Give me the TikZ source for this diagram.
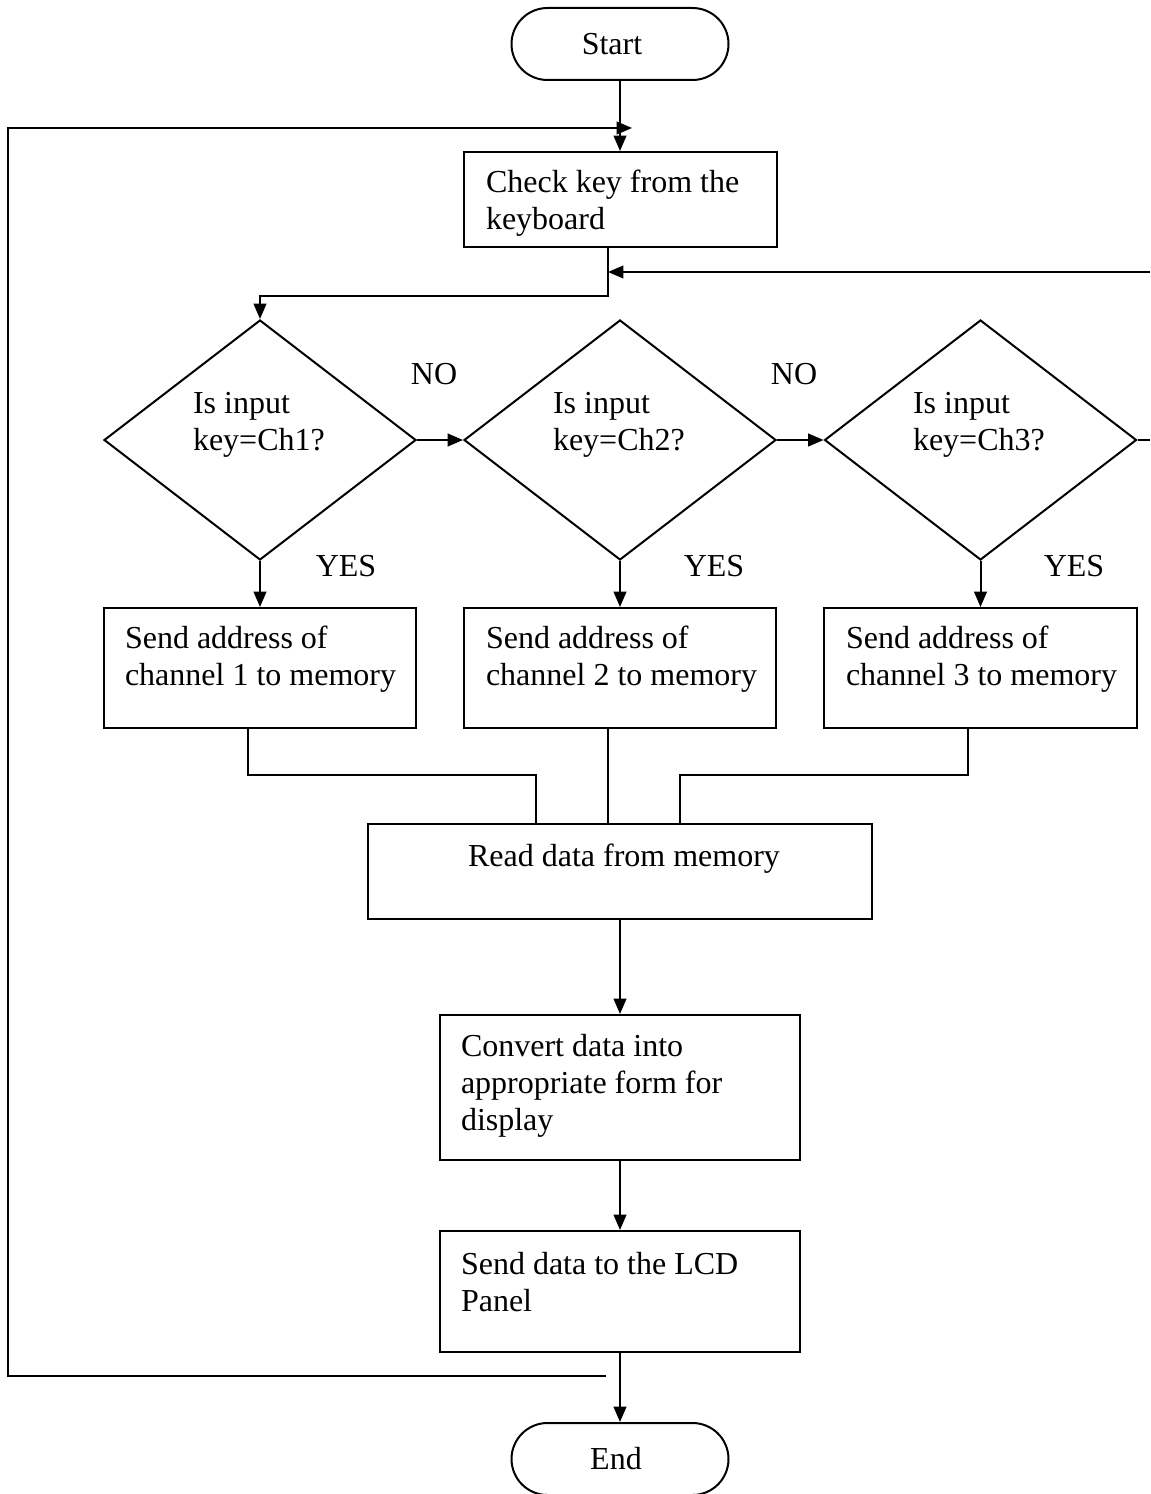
\documentclass[tikz,border=0pt]{standalone}
\usepackage{fontspec}
\setmainfont{Liberation Serif}
\usetikzlibrary{arrows.meta,shapes.geometric}
\begin{document}
\begin{tikzpicture}[x=0.75pt,y=-0.75pt,
  line width=1.5pt,
  every node/.style={font=\fontsize{24}{27.75}\selectfont},
  box/.style={draw,rectangle,inner sep=0pt},
  term/.style={draw,rectangle,rounded corners=27pt,inner sep=0pt,minimum width=162.75pt,minimum height=54pt},
  decision/.style={draw,diamond,inner sep=0pt,minimum width=234pt,minimum height=180pt},
  txt/.style={inner sep=0pt,align=left,anchor=west},
  arr/.style={-{Triangle[length=11.5pt,width=9.5pt]}},
]
\useasboundingbox (0,0) rectangle (1150,1494);

% terminals
\node[term] (start) at (620,44) {Start\hspace*{12pt}};
\node[term] (end) at (620,1459) {End\hspace*{6pt}};

% process boxes
\node[box,minimum width=234.75pt,minimum height=71.25pt] (check) at (620,199.5) {};
\node[txt] (checkt) at (485,203) {Check key from the\\keyboard};

\node[decision] (d1) at (260,440) {};
\node[decision] (d2) at (620,440) {};
\node[decision] (d3) at (980.5,440) {};
\node[txt] (d1t) at (192,425) {Is input\\key=Ch1?};
\node[txt] (d2t) at (552,425) {Is input\\key=Ch2?};
\node[txt] (d3t) at (912,425) {Is input\\key=Ch3?};

\node[box,minimum width=234pt,minimum height=90pt] (s1) at (260,668) {};
\node[box,minimum width=234pt,minimum height=90pt] (s2) at (620,668) {};
\node[box,minimum width=234.75pt,minimum height=90pt] (s3) at (980.5,668) {};
\node[txt] (s1t) at (124,659) {Send address of\\channel 1 to memory};
\node[txt] (s2t) at (485,659) {Send address of\\channel 2 to memory};
\node[txt] (s3t) at (845,659) {Send address of\\channel 3 to memory};

\node[box,minimum width=378pt,minimum height=71.25pt] (read) at (620,871.5) {};
\node[inner sep=0pt] (readt) at (624,859) {Read data from memory};

\node[box,minimum width=270pt,minimum height=108.75pt] (conv) at (620,1087.5) {};
\node[txt] (convt) at (460,1086) {Convert data into\\appropriate form for\\display};

\node[box,minimum width=270pt,minimum height=90.75pt] (lcd) at (620,1291.5) {};
\node[txt] (lcdt) at (460,1282) {Send data to the LCD\\Panel};

% branch labels
\node (no1) at (434,374) {NO};
\node (no2) at (794,374) {NO};
\node (yes1) at (346,566) {YES};
\node (yes2) at (714,566) {YES};
\node (yes3) at (1074,566) {YES};

% loose ends of the loops
\coordinate (topin) at (632,128);
\coordinate (rightin) at (1150,272);
\coordinate (rightout) at (1150,440);
\coordinate (botout) at (606,1376);

% main flow
\draw[arr] (start.south) -- (check.north);
\draw[arr] (check.south -| 608,0) -- (608,296) -| (d1.north);
\draw[arr] (rightin) -- (608,272);
\draw[arr] (d1.east) -- (d2.west);
\draw[arr] (d2.east) -- (d3.west);
\draw (d3.east) -- (rightout);
\draw[arr] (d1.south) -- (s1.north);
\draw[arr] (d2.south) -- (s2.north);
\draw[arr] (d3.south) -- (s3.north);

% merge into the read step
\draw (s1.south -| 248,0) -- (248,775) -- (536,775) -- (read.north -| 536,0);
\draw (s2.south -| 608,0) -- (read.north -| 608,0);
\draw (s3.south -| 968,0) -- (968,775) -- (680,775) -- (read.north -| 680,0);

\draw[arr] (read.south) -- (conv.north);
\draw[arr] (conv.south) -- (lcd.north);
\draw[arr] (lcd.south) -- (end.north);

% return loop to the keyboard check
\draw[arr] (botout) -- (8,1376) -- (8,128) -- (topin);
\end{tikzpicture}
\end{document}
